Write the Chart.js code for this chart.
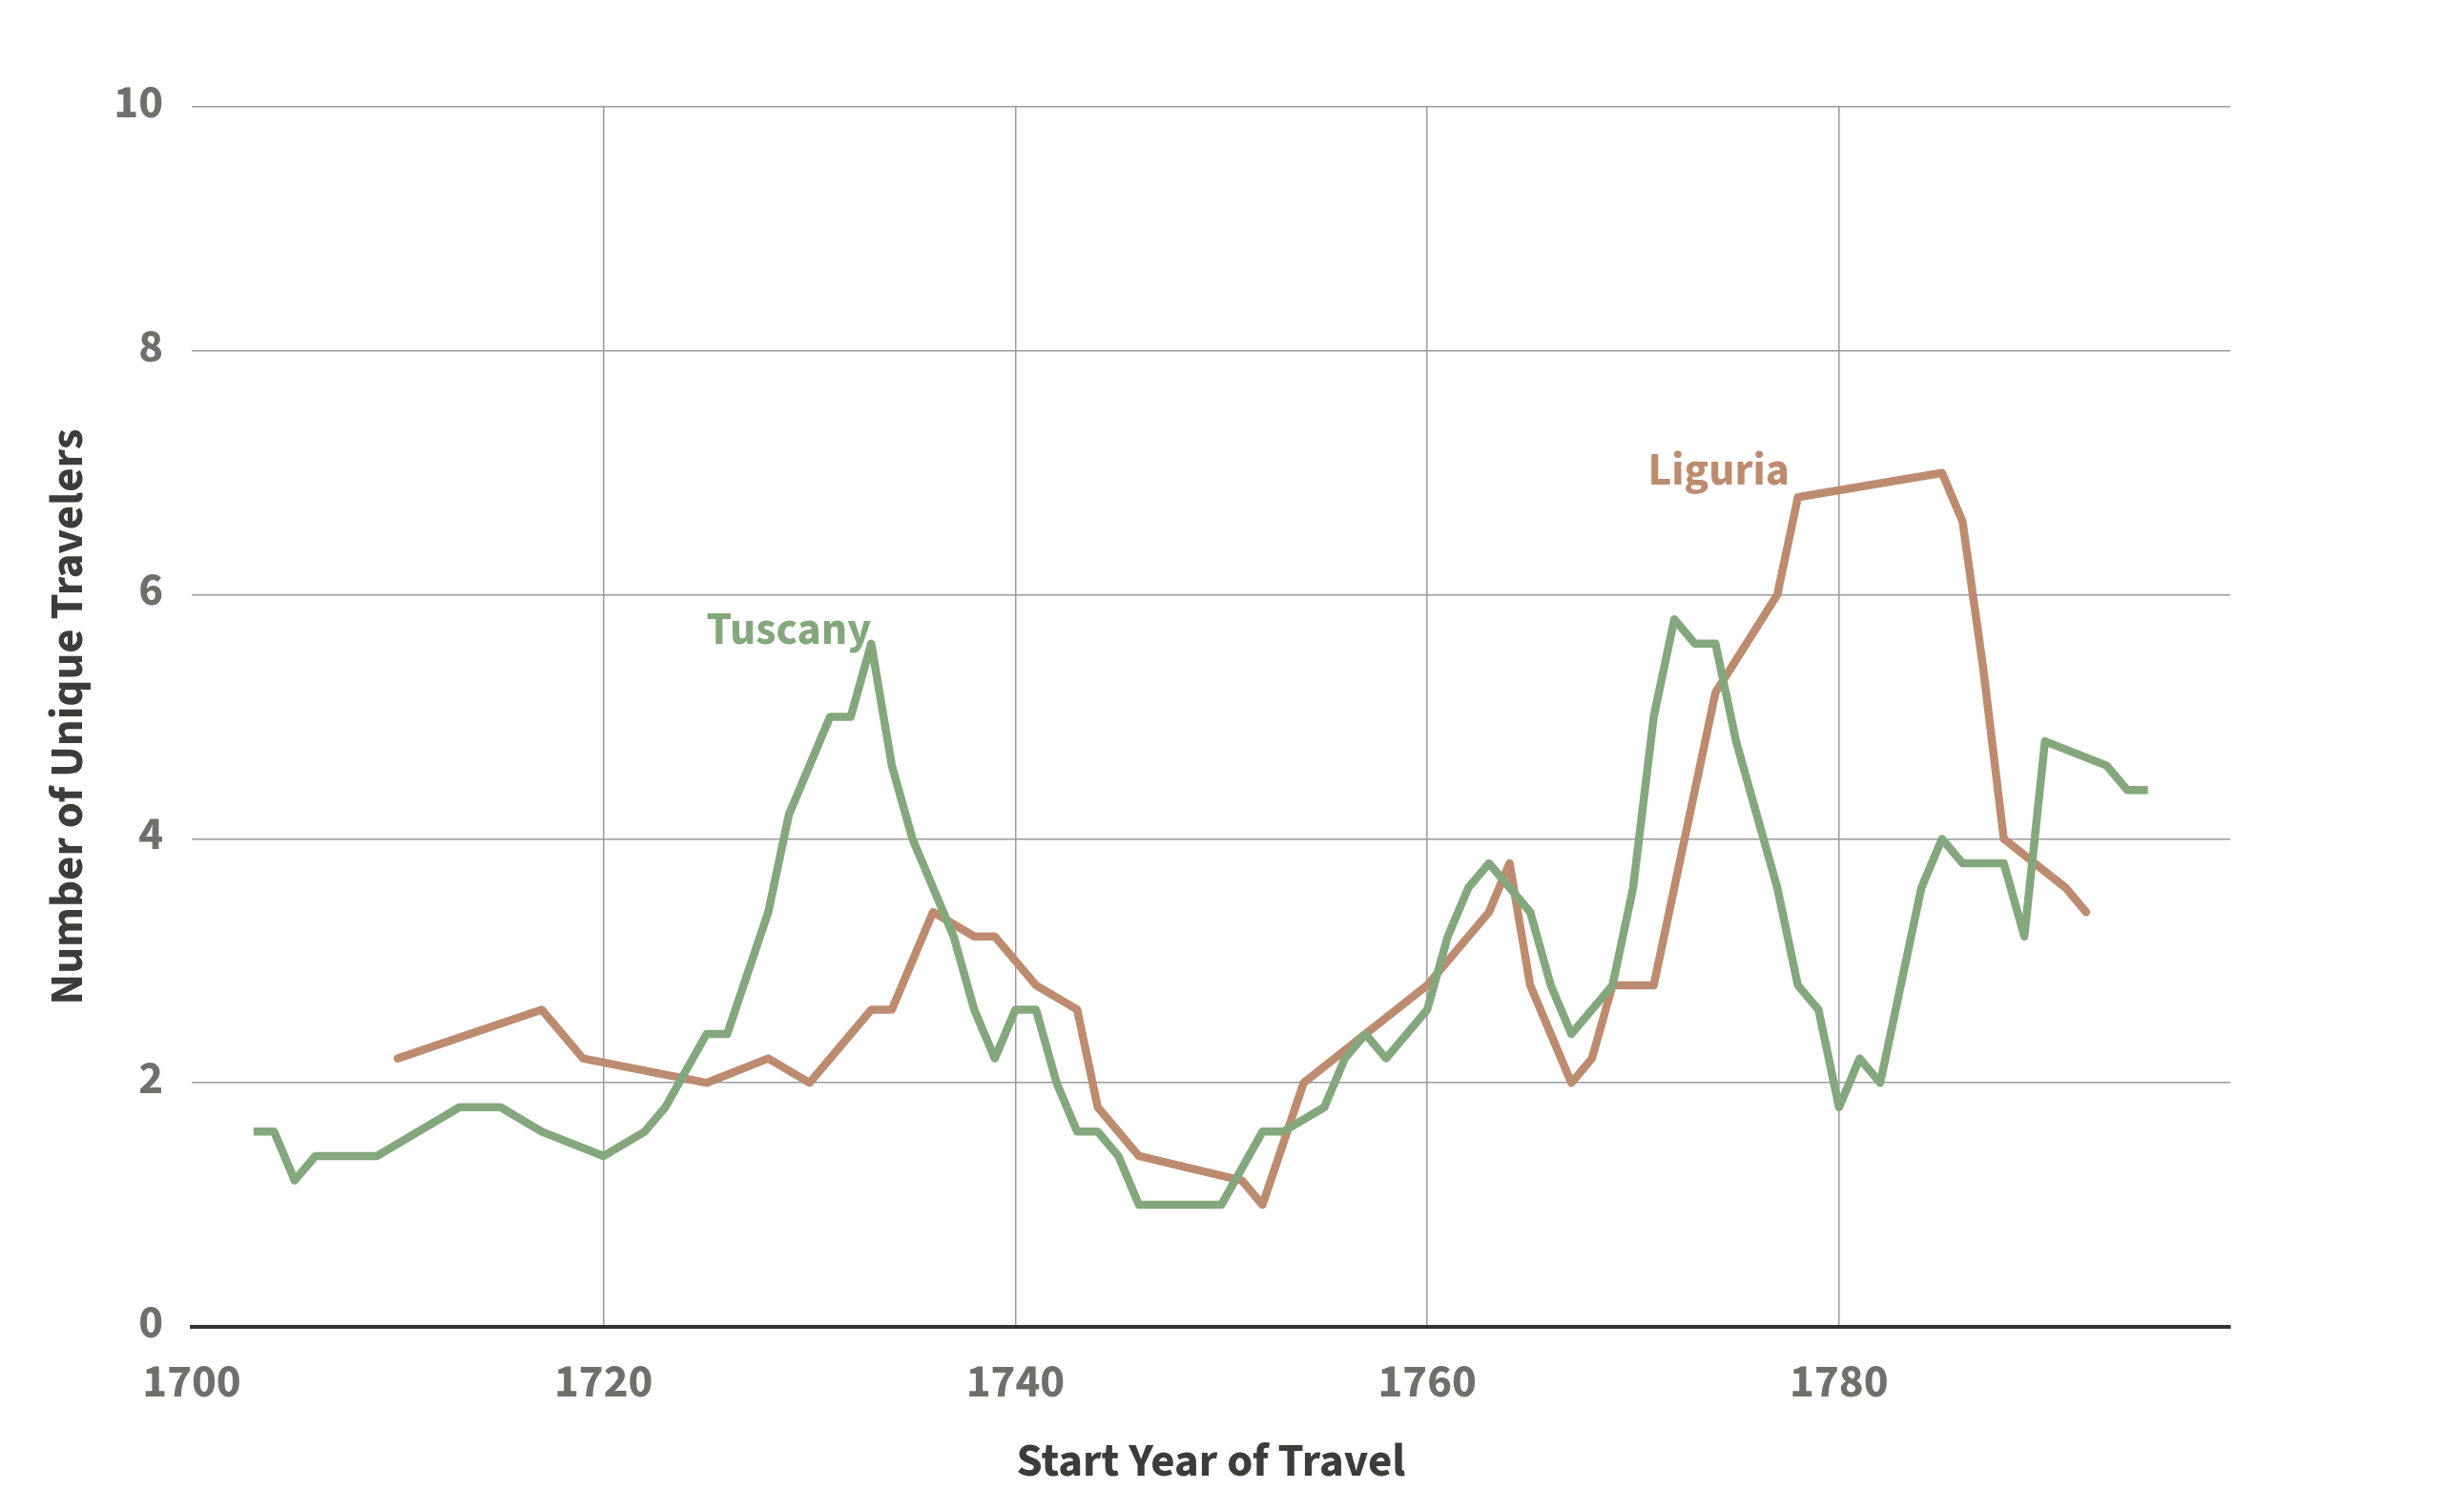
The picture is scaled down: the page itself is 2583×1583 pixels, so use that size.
<!DOCTYPE html>
<html>
<head>
<meta charset="utf-8">
<script src="https://cdn.jsdelivr.net/npm/chart.js@4.4.1/dist/chart.umd.min.js"></script>
<style>
  html, body { margin: 0; padding: 0; background: #ffffff; }
  canvas { display: block; }
</style>
</head>
<body>
<canvas id="c" width="2583" height="1583"></canvas>
<script>
// ---- data ----
const tuscanyYears = [1703,1704,1705,1706,1707,1708,1709,1713,1714,1715,1717,1720,1722,1723,1725,1726,1728,1729,1731,1732,1733,1734,1735,1736,1737,1738,1739,1740,1741,1742,1743,1744,1745,1746,1747,1748,1749,1750,1752,1753,1755,1756,1757,1758,1760,1761,1762,1763,1764,1765,1766,1767,1769,1770,1771,1772,1773,1774,1775,1777,1778,1779,1780,1781,1782,1784,1785,1786,1787,1788,1789,1790,1793,1794,1795];
const tuscanyValues = [1.6,1.6,1.2,1.4,1.4,1.4,1.4,1.8,1.8,1.8,1.6,1.4,1.6,1.8,2.4,2.4,3.4,4.2,5.0,5.0,5.6,4.6,4.0,3.6,3.2,2.6,2.2,2.6,2.6,2.0,1.6,1.6,1.4,1.0,1.0,1.0,1.0,1.0,1.6,1.6,1.8,2.2,2.4,2.2,2.6,3.2,3.6,3.8,3.6,3.4,2.8,2.4,2.8,3.6,5.0,5.8,5.6,5.6,4.8,3.6,2.8,2.6,1.8,2.2,2.0,3.6,4.0,3.8,3.8,3.8,3.2,4.8,4.6,4.4,4.4];
const liguriaYears = [1710,1717,1719,1725,1728,1730,1733,1734,1736,1738,1739,1741,1743,1744,1746,1751,1752,1754,1760,1763,1764,1765,1767,1768,1769,1771,1774,1777,1778,1785,1786,1787,1788,1791,1792];
const liguriaValues = [2.2,2.6,2.2,2.0,2.2,2.0,2.6,2.6,3.4,3.2,3.2,2.8,2.6,1.8,1.4,1.2,1.0,2.0,2.8,3.4,3.8,2.8,2.0,2.2,2.8,2.8,5.2,6.0,6.8,7.0,6.6,5.4,4.0,3.6,3.4];
const seriesNames = ["Tuscany", "Liguria"];
const xTickValues = [1700, 1720, 1740, 1760, 1780];
const yTickValues = [0, 2, 4, 6, 8, 10];
const xTitle = "Start Year of Travel";
const yTitle = "Number of Unique Travelers";

// ---- styling ----
const FONT = "'Source Sans Pro', 'Source Sans 3', Lato, 'Open Sans', sans-serif";
const GREEN = "#84a77d";
const BROWN = "#bd8b6f";
const TICK_COLOR = "#6f706b";
const TITLE_COLOR = "#3c3c3a";
const labelAnchors = [
  { text: seriesNames[0], x: 1733, y: 5.6, color: GREEN },
  { text: seriesNames[1], x: 1777.6, y: 6.9, color: BROWN }
];

function toPoints(xs, ys) { return xs.map((x, i) => ({ x: x, y: ys[i] })); }

const seriesLabels = {
  id: 'seriesLabels',
  afterDatasetsDraw(chart) {
    const ctx = chart.ctx;
    const xs = chart.scales.x, ys = chart.scales.y;
    ctx.save();
    ctx.font = "bold 48px " + FONT;
    ctx.textAlign = "right";
    ctx.textBaseline = "alphabetic";
    labelAnchors.forEach(a => {
      ctx.fillStyle = a.color;
      ctx.fillText(a.text, xs.getPixelForValue(a.x), ys.getPixelForValue(a.y));
    });
    ctx.restore();
  }
};

new Chart(document.getElementById('c'), {
  type: 'line',
  data: {
    datasets: [
      {
        label: seriesNames[0],
        data: toPoints(tuscanyYears, tuscanyValues),
        borderColor: GREEN,
        borderWidth: 8.5,
        borderCapStyle: 'butt',
        borderJoinStyle: 'round',
        pointRadius: 0,
        tension: 0,
        fill: false
      },
      {
        label: seriesNames[1],
        data: toPoints(liguriaYears, liguriaValues),
        borderColor: BROWN,
        borderWidth: 8.5,
        borderCapStyle: 'round',
        borderJoinStyle: 'round',
        pointRadius: 0,
        tension: 0,
        fill: false
      }
    ]
  },
  options: {
    responsive: false,
    animation: false,
    devicePixelRatio: 1,
    layout: { padding: { left: 0, right: 245, top: 112, bottom: 0 } },
    plugins: {
      legend: { display: false },
      tooltip: { enabled: false },
      title: { display: false }
    },
    scales: {
      x: {
        type: 'linear',
        min: 1700,
        max: 1799,
        afterFit(scale) { scale.height = 192; },
        afterBuildTicks(scale) { scale.ticks = xTickValues.map(v => ({ value: v })); },
        ticks: {
          includeBounds: false,
          padding: 33,
          color: TICK_COLOR,
          font: { family: FONT, size: 49, weight: 'bold' },
          maxRotation: 0,
          callback: v => String(v)
        },
        grid: {
          drawTicks: false,
          lineWidth: 1.5,
          color: c => (c.tick && c.tick.value === 1700) ? 'rgba(0,0,0,0)' : '#9a9a9a'
        },
        border: { display: true, color: '#333333', width: 4 },
        title: {
          display: true,
          text: xTitle,
          color: TITLE_COLOR,
          font: { family: FONT, size: 49, weight: 'bold' },
          padding: { top: 0, bottom: 17 }
        }
      },
      y: {
        min: 0,
        max: 10,
        afterFit(scale) { scale.width = 201; },
        afterBuildTicks(scale) { scale.ticks = yTickValues.map(v => ({ value: v })); },
        ticks: {
          padding: 30,
          color: TICK_COLOR,
          font: { family: FONT, size: 49, weight: 'bold' },
          callback: v => String(v)
        },
        grid: {
          drawTicks: false,
          lineWidth: 1.5,
          color: '#9a9a9a'
        },
        border: { display: false },
        title: {
          display: true,
          text: yTitle,
          color: TITLE_COLOR,
          font: { family: FONT, size: 49, weight: 'bold' },
          padding: { top: 46, bottom: 0 }
        }
      }
    }
  },
  plugins: [seriesLabels]
});
</script>
</body>
</html>
